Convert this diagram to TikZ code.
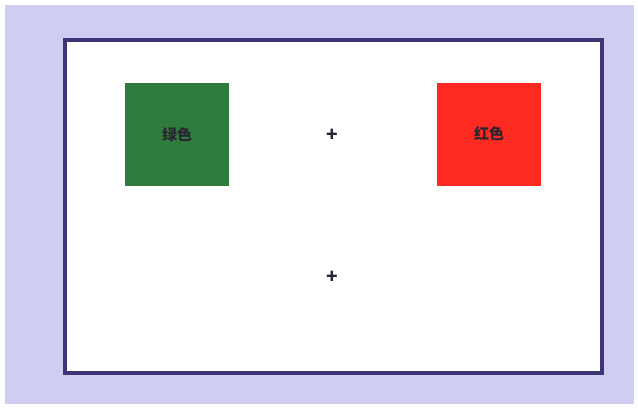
\documentclass[tikz,border=0pt]{standalone}
\usepackage{fontspec}
\newfontfamily\cjk{Noto Sans CJK SC}
\usepackage{tikz}
\usetikzlibrary{positioning}
\definecolor{paperLilac}{HTML}{CFCDF1}
\definecolor{frameIndigo}{HTML}{3D3578}
\definecolor{swatchGreen}{HTML}{2F7B3C}
\definecolor{swatchRed}{HTML}{FD2A22}
\definecolor{markInk}{HTML}{2A2430}

\begin{document}
\begin{tikzpicture}[
  x=1pt, y=-1pt,
  % Styles
  swatch/.style={
    rectangle, minimum width=104pt, minimum height=103pt,
    fill=#1, draw=none, inner sep=0pt,
    font=\cjk\bfseries\fontsize{15}{17}\selectfont, text=markInk
  },
  crossmark/.style={
    font=\cjk\bfseries\fontsize{19}{21}\selectfont, text=markInk, inner sep=0pt
  },
]

% === PAPER ===
\fill[white] (0,0) rectangle (638,408);
\fill[paperLilac] (5,5) rectangle (634,404);
\useasboundingbox (0,0) rectangle (638,408);

% === FRAME ===
\node[draw=frameIndigo, line width=4.5pt, fill=white, rectangle,
  minimum width=537pt, minimum height=333pt, inner sep=0pt]
  (frame) at (333.5,206.5) {};

% === SWATCHES ===
\node[swatch=swatchGreen] (green) at (177,134.5) {绿色};
\node[swatch=swatchRed] (red) at (489,134) {红色};

% === CROSSES ===
\node[crossmark] (crossup) at (332,135) {+};
\node[crossmark] (crossdown) at (332,277) {+};

\end{tikzpicture}
\end{document}
